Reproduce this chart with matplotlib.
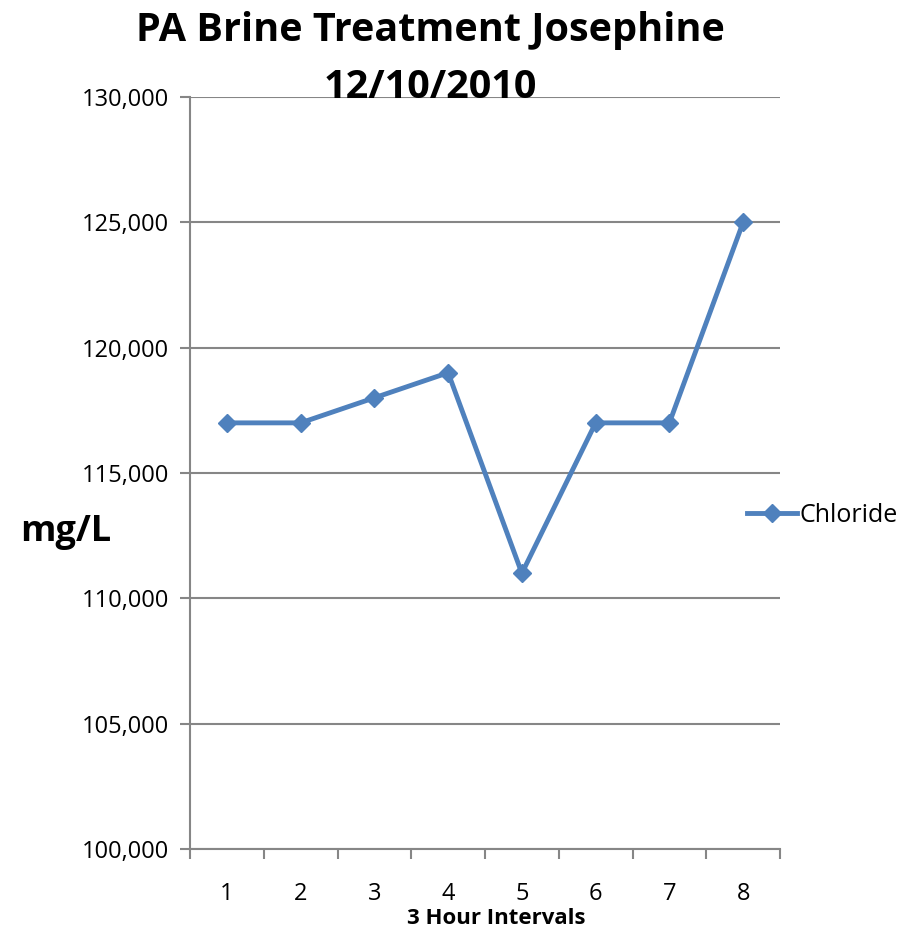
import matplotlib.pyplot as plt
import numpy as np

intervals = ["1", "2", "3", "4", "5", "6", "7", "8"]
chloride = [117000, 117000, 118000, 119000, 111000, 117000, 117000, 125000]
y_ticks = [100000, 105000, 110000, 115000, 120000, 125000, 130000]

plt.rcParams["font.family"] = ["Open Sans", "DejaVu Sans"]

fig = plt.figure(figsize=(9.24, 9.31), dpi=100)
ax = fig.add_axes([190 / 924, 82 / 931, 590 / 924, 752 / 931])

x = np.arange(len(intervals)) + 0.5
ax.plot(x, chloride, color="#4F81BD", lw=3.5, marker="D", ms=9,
        label="Chloride", zorder=3)

ax.set_xlim(0, len(intervals))
ax.set_ylim(100000, 130000)
ax.set_yticks(y_ticks)
ax.set_yticklabels([f"{v:,}" for v in y_ticks])
ax.set_xticks(np.arange(len(intervals) + 1))
ax.set_xticklabels([])
ax.set_xticks(x, minor=True)
ax.set_xticklabels(intervals, minor=True)
ax.tick_params(axis="x", which="minor", length=0, pad=24, labelsize=17)
ax.tick_params(axis="x", which="major", length=7, color="#868686", width=1.5)
ax.tick_params(axis="y", length=7, color="#868686", width=1.5, labelsize=17, pad=8)

ax.grid(axis="y", color="#868686", lw=1.5)
ax.set_axisbelow(True)
for s in ["top", "right"]:
    ax.spines[s].set_visible(False)
for s in ["left", "bottom"]:
    ax.spines[s].set_color("#868686")
    ax.spines[s].set_linewidth(1.5)

fig.text(496 / 924, 1 - 918 / 931, "3 Hour Intervals", fontsize=16,
         fontweight="bold", ha="center", va="center")
fig.text(66 / 924, 1 - 532 / 931, "mg/L", fontsize=26, fontweight="bold",
         ha="center", va="center")
fig.text(430 / 924, 1 - 31 / 931, "PA Brine Treatment Josephine",
         fontsize=28.5, fontweight="bold", ha="center", va="center")
fig.text(430 / 924, 1 - 88 / 931, "12/10/2010",
         fontsize=28.5, fontweight="bold", ha="center", va="center")

ax.legend(loc="center left", bbox_to_anchor=(0.906, 0.444), frameon=False,
          fontsize=18, handlelength=2.0, handletextpad=0.1)

fig.savefig("out.png", dpi=100)
